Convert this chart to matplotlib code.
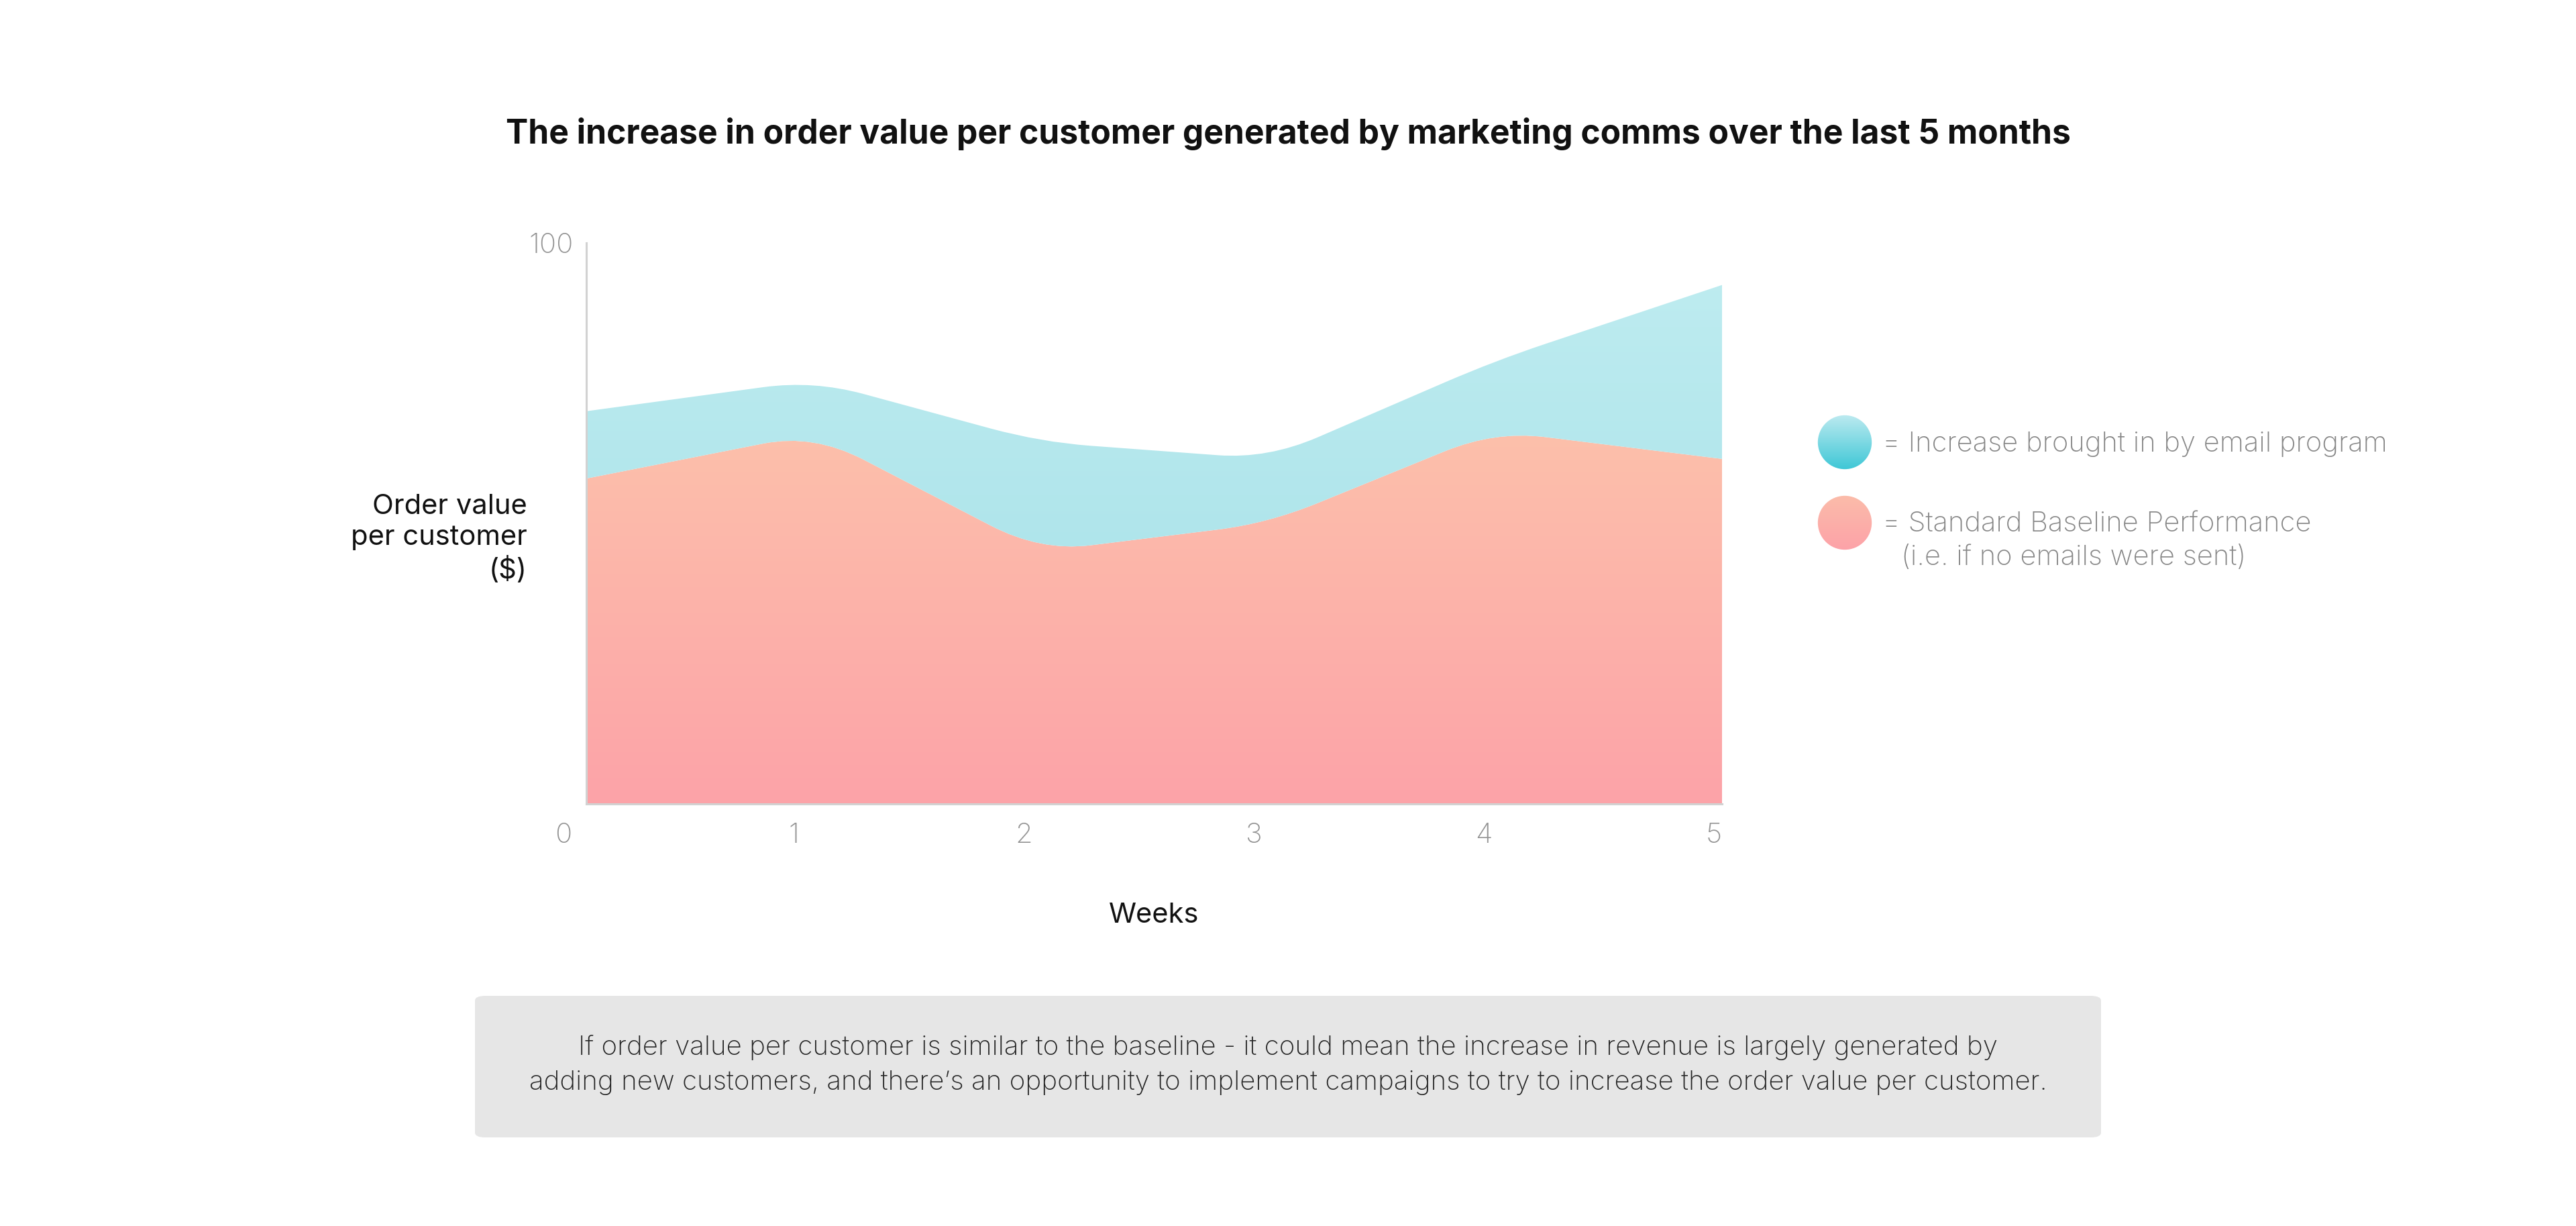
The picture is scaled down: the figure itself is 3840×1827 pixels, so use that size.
import numpy as np
import matplotlib
matplotlib.use("Agg")
import matplotlib.pyplot as plt
from matplotlib.path import Path
from matplotlib.patches import PathPatch, Circle, FancyBboxPatch
from matplotlib.colors import LinearSegmentedColormap
from matplotlib.transforms import ScaledTranslation

# =====================
# Data
# =====================
weeks = [0, 1, 2, 3, 4, 5]
baseline = [58, 66, 45, 50, 66.5, 61.5]
email_increase = [12, 9.5, 19.5, 11.5, 12.5, 31]

title = "The increase in order value per customer generated by marketing comms over the last 5 months"
y_label = "Order value\nper customer\n($)"
x_label = "Weeks"
legend_labels = ["= Increase brought in by email program",
                 "= Standard Baseline Performance"]
legend_sub = "(i.e. if no emails were sent)"
note = ("If order value per customer is similar to the baseline - it could mean the increase in revenue is largely generated by\n"
        "adding new customers, and there\u2019s an opportunity to implement campaigns to try to increase the order value per customer.")

FONT = ["Inter", "DejaVu Sans"]
W, H = 3840, 1827


def rounded(xs, ys, f=0.22):
    # polyline with rounded corners (quadratic bezier at each inner point)
    verts = [(xs[0], ys[0])]
    codes = [Path.LINETO]
    for i in range(1, len(xs) - 1):
        p0 = np.array([xs[i - 1], ys[i - 1]])
        p1 = np.array([xs[i], ys[i]])
        p2 = np.array([xs[i + 1], ys[i + 1]])
        a = p1 + (p0 - p1) * f
        b = p1 + (p2 - p1) * f
        verts += [tuple(a), tuple(p1), tuple(b)]
        codes += [Path.LINETO, Path.CURVE3, Path.CURVE3]
    verts.append((xs[-1], ys[-1]))
    codes.append(Path.LINETO)
    return verts, codes


def gradient_fill(ax, path, c_top, c_bot, y_top, y_bot):
    patch = PathPatch(path, facecolor="none", edgecolor="none")
    ax.add_patch(patch)
    cmap = LinearSegmentedColormap.from_list("g", [c_bot, c_top])
    grad = np.linspace(0, 1, 256).reshape(-1, 1)
    im = ax.imshow(grad, cmap=cmap, origin="lower", aspect="auto",
                   extent=[weeks[0], weeks[-1], y_bot, y_top], zorder=1)
    im.set_clip_path(patch)


fig = plt.figure(figsize=(W / 100, H / 100), dpi=100)
fig.patch.set_facecolor("white")

ax = fig.add_axes([874 / W, 1 - 1198 / H, (2567 - 874) / W, (1198 - 362) / H])
ax.set_xlim(weeks[0], weeks[-1])
ax.set_ylim(0, 100)

total = [b + e for b, e in zip(baseline, email_increase)]

# baseline area
bv, bc = rounded(weeks, baseline)
verts = [(weeks[0], 0)] + bv + [(weeks[-1], 0), (weeks[0], 0)]
codes = [Path.MOVETO] + bc + [Path.LINETO, Path.CLOSEPOLY]
gradient_fill(ax, Path(verts, codes), "#FCC0AB", "#FDA3A8", 66, 0)

# email increase area (between baseline and total)
tv, tc = rounded(weeks, total)
rv, rc = rounded(weeks[::-1], baseline[::-1])
verts = tv + rv + [tv[0]]
codes = [Path.MOVETO] + tc[1:] + rc + [Path.CLOSEPOLY]
gradient_fill(ax, Path(verts, codes), "#BEECF0", "#AFE5EB", 95, 45)

# axes styling
for s in ["top", "right"]:
    ax.spines[s].set_visible(False)
for s in ["left", "bottom"]:
    ax.spines[s].set_color("#D2D2D2")
    ax.spines[s].set_linewidth(2.2)
    ax.spines[s].set_zorder(3)
ax.set_xticks(weeks)
ax.set_xticklabels([str(w) for w in weeks])
ax.set_yticks([100])
ax.set_yticklabels(["100"])
ax.tick_params(length=0, labelsize=30, labelcolor="#959595")
ax.tick_params(axis="x", pad=20)
ax.tick_params(axis="y", pad=14)
for lbl in ax.get_xticklabels() + ax.get_yticklabels():
    lbl.set_fontfamily(FONT)
    lbl.set_fontweight("light")
for i, lbl in enumerate(ax.get_xticklabels()):
    dx = (-34 + i * 4.4) / 100
    lbl.set_transform(lbl.get_transform() + ScaledTranslation(dx, 0, fig.dpi_scale_trans))
ax.set_facecolor("none")

# texts
fig.text(1920 / W, 1 - 200 / H, title, ha="center", va="center",
         fontsize=35.8, fontweight="bold", color="#111111", family=FONT)
fig.text(786 / W, 1 - 803 / H, y_label, ha="right", va="center", multialignment="right",
         fontsize=30, color="#111111", family=FONT, linespacing=1.26)
fig.text(1720 / W, 1 - 1364 / H, x_label, ha="center", va="center",
         fontsize=30, color="#111111", family=FONT)

# legend circles
circle_cols = [("#BCEAF0", "#3EC7D6"), ("#FBBCAA", "#FDA2A8")]
circle_y = [659, 779]
for (ctop, cbot), cy, lab in zip(circle_cols, circle_y, legend_labels):
    cax = fig.add_axes([(2750 - 41) / W, 1 - (cy + 41) / H, 82 / W, 82 / H])
    cax.set_xlim(-1, 1)
    cax.set_ylim(-1, 1)
    cax.axis("off")
    circ = Circle((0, 0), 0.98, transform=cax.transData, facecolor="none", edgecolor="none")
    cax.add_patch(circ)
    cmap = LinearSegmentedColormap.from_list("c", [cbot, ctop])
    im = cax.imshow(np.linspace(0, 1, 128).reshape(-1, 1), cmap=cmap, origin="lower",
                    extent=[-1, 1, -1, 1], aspect="auto")
    im.set_clip_path(circ)
    fig.text(2806 / W, 1 - (cy + 3) / H, lab, ha="left", va="center",
             fontsize=30, fontweight="light", color="#878787", family=FONT)
fig.text(2834 / W, 1 - 831 / H, legend_sub, ha="left", va="center",
         fontsize=30, fontweight="light", color="#878787", family=FONT)

# note box
box = FancyBboxPatch((708 / W, 1 - 1695 / H), (3132 - 708) / W, (1695 - 1484) / H,
                     boxstyle="round,pad=0,rounding_size=0.004", transform=fig.transFigure,
                     facecolor="#E6E6E6", edgecolor="none")
fig.patches.append(box)
fig.text(1920 / W, 1 - 1587 / H, note, ha="center", va="center", multialignment="center",
         fontsize=29, fontweight="light", color="#262626", family=FONT, linespacing=1.5)

fig.savefig("out.png", dpi=100, facecolor="white")
